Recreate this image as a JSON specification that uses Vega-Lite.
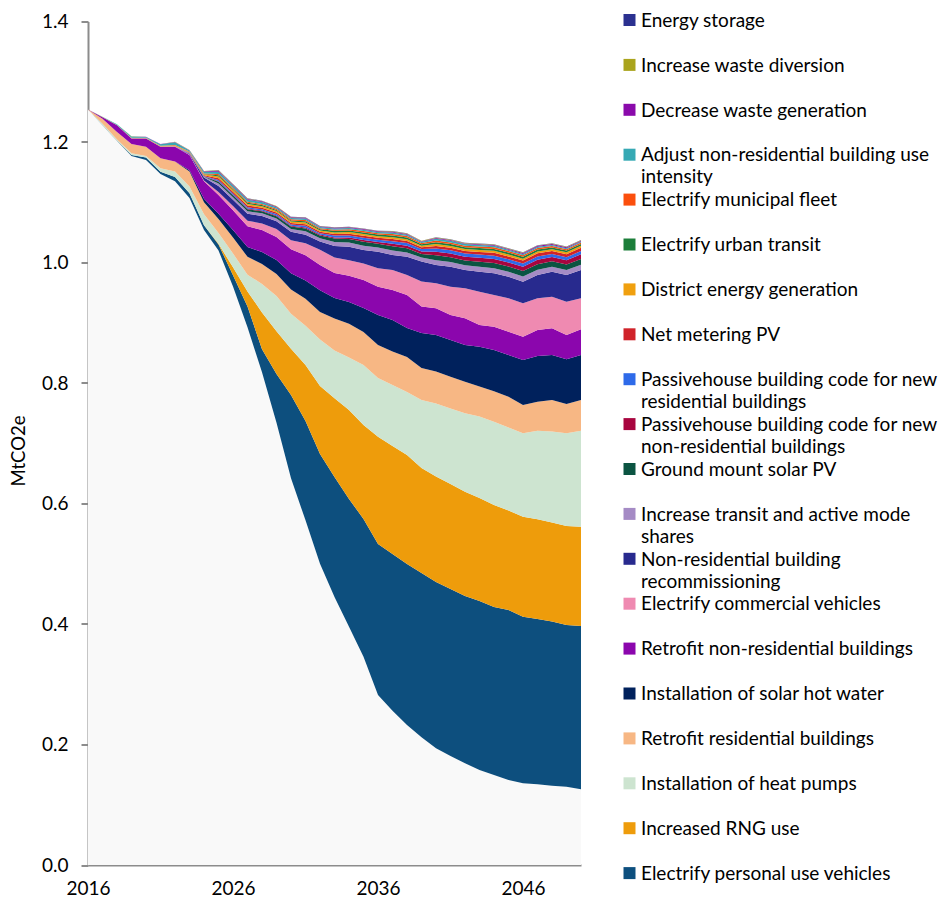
{
"$schema": "https://vega.github.io/schema/vega-lite/v6.json",
"width": 493,
"height": 843.5,
"autosize": {"type": "none"},
"padding": {"left": 88, "top": 21.5, "right": 364, "bottom": 42},
"background": "white",
"config": {"font": "Lato", "view": {"stroke": null}},
"datasets": {
"series": [
{"k":"R","name":"Remaining emissions","rank":0},
{"k":"PV","name":"Electrify personal use vehicles","rank":1},
{"k":"RNG","name":"Increased RNG use","rank":2},
{"k":"HP","name":"Installation of heat pumps","rank":3},
{"k":"RR","name":"Retrofit residential buildings","rank":4},
{"k":"SHW","name":"Installation of solar hot water","rank":5},
{"k":"RNR","name":"Retrofit non-residential buildings","rank":6},
{"k":"ECV","name":"Electrify commercial vehicles","rank":7},
{"k":"NRR","name":"Non-residential building recommissioning","rank":8},
{"k":"TAM","name":"Increase transit and active mode shares","rank":9},
{"k":"GSP","name":"Ground mount solar PV","rank":10},
{"k":"PHN","name":"Passivehouse building code for new non-residential buildings","rank":11},
{"k":"PHR","name":"Passivehouse building code for new residential buildings","rank":12},
{"k":"NM","name":"Net metering PV","rank":13},
{"k":"DE","name":"District energy generation","rank":14},
{"k":"EUT","name":"Electrify urban transit","rank":15},
{"k":"EMF","name":"Electrify municipal fleet","rank":16},
{"k":"ANR","name":"Adjust non-residential building use intensity","rank":17},
{"k":"DWG","name":"Decrease waste generation","rank":18},
{"k":"IWD","name":"Increase waste diversion","rank":19},
{"k":"ES","name":"Energy storage","rank":20}
],
"em": [
{"year":2016,"k":"R","v":1.254},{"year":2016,"k":"PV","v":0},{"year":2016,"k":"RNG","v":0},{"year":2016,"k":"HP","v":0},{"year":2016,"k":"RR","v":0},{"year":2016,"k":"SHW","v":0},{"year":2016,"k":"RNR","v":0},{"year":2016,"k":"ECV","v":0},{"year":2016,"k":"NRR","v":0},{"year":2016,"k":"TAM","v":0},{"year":2016,"k":"GSP","v":0},{"year":2016,"k":"PHN","v":0},{"year":2016,"k":"PHR","v":0},{"year":2016,"k":"NM","v":0},{"year":2016,"k":"DE","v":0},{"year":2016,"k":"EUT","v":0},{"year":2016,"k":"EMF","v":0},{"year":2016,"k":"ANR","v":0},{"year":2016,"k":"DWG","v":0},{"year":2016,"k":"IWD","v":0},{"year":2016,"k":"ES","v":0},
{"year":2017,"k":"R","v":1.228},{"year":2017,"k":"PV","v":0.0003},{"year":2017,"k":"RNG","v":0},{"year":2017,"k":"HP","v":0.002},{"year":2017,"k":"RR","v":0.0082},{"year":2017,"k":"SHW","v":0},{"year":2017,"k":"RNR","v":0.0025},{"year":2017,"k":"ECV","v":0},{"year":2017,"k":"NRR","v":0},{"year":2017,"k":"TAM","v":0.0001},{"year":2017,"k":"GSP","v":0},{"year":2017,"k":"PHN","v":0},{"year":2017,"k":"PHR","v":0},{"year":2017,"k":"NM","v":0},{"year":2017,"k":"DE","v":0.0002},{"year":2017,"k":"EUT","v":0},{"year":2017,"k":"EMF","v":0.0001},{"year":2017,"k":"ANR","v":0.0005},{"year":2017,"k":"DWG","v":0.0001},{"year":2017,"k":"IWD","v":0},{"year":2017,"k":"ES","v":0},
{"year":2018,"k":"R","v":1.2015},{"year":2018,"k":"PV","v":0.0005},{"year":2018,"k":"RNG","v":0},{"year":2018,"k":"HP","v":0.002},{"year":2018,"k":"RR","v":0.0127},{"year":2018,"k":"SHW","v":0},{"year":2018,"k":"RNR","v":0.011},{"year":2018,"k":"ECV","v":0},{"year":2018,"k":"NRR","v":0},{"year":2018,"k":"TAM","v":0.0002},{"year":2018,"k":"GSP","v":0},{"year":2018,"k":"PHN","v":0},{"year":2018,"k":"PHR","v":0},{"year":2018,"k":"NM","v":0},{"year":2018,"k":"DE","v":0.0003},{"year":2018,"k":"EUT","v":0},{"year":2018,"k":"EMF","v":0.0002},{"year":2018,"k":"ANR","v":0.001},{"year":2018,"k":"DWG","v":0.0001},{"year":2018,"k":"IWD","v":0},{"year":2018,"k":"ES","v":0},
{"year":2019,"k":"R","v":1.1768},{"year":2019,"k":"PV","v":0.0016},{"year":2019,"k":"RNG","v":0},{"year":2019,"k":"HP","v":0.0029},{"year":2019,"k":"RR","v":0.0154},{"year":2019,"k":"SHW","v":0},{"year":2019,"k":"RNR","v":0.0091},{"year":2019,"k":"ECV","v":0},{"year":2019,"k":"NRR","v":0},{"year":2019,"k":"TAM","v":0.0004},{"year":2019,"k":"GSP","v":0},{"year":2019,"k":"PHN","v":0},{"year":2019,"k":"PHR","v":0},{"year":2019,"k":"NM","v":0},{"year":2019,"k":"DE","v":0.0005},{"year":2019,"k":"EUT","v":0},{"year":2019,"k":"EMF","v":0.0004},{"year":2019,"k":"ANR","v":0.002},{"year":2019,"k":"DWG","v":0.0002},{"year":2019,"k":"IWD","v":0.0002},{"year":2019,"k":"ES","v":0},
{"year":2020,"k":"R","v":1.1701},{"year":2020,"k":"PV","v":0.004},{"year":2020,"k":"RNG","v":0},{"year":2020,"k":"HP","v":0.0028},{"year":2020,"k":"RR","v":0.0153},{"year":2020,"k":"SHW","v":0},{"year":2020,"k":"RNR","v":0.0136},{"year":2020,"k":"ECV","v":0},{"year":2020,"k":"NRR","v":0},{"year":2020,"k":"TAM","v":0.0003},{"year":2020,"k":"GSP","v":0},{"year":2020,"k":"PHN","v":0},{"year":2020,"k":"PHR","v":0},{"year":2020,"k":"NM","v":0},{"year":2020,"k":"DE","v":0.0005},{"year":2020,"k":"EUT","v":0},{"year":2020,"k":"EMF","v":0.0003},{"year":2020,"k":"ANR","v":0.0016},{"year":2020,"k":"DWG","v":0.0002},{"year":2020,"k":"IWD","v":0.0001},{"year":2020,"k":"ES","v":0},
{"year":2021,"k":"R","v":1.1469},{"year":2021,"k":"PV","v":0.0038},{"year":2021,"k":"RNG","v":0},{"year":2021,"k":"HP","v":0.0056},{"year":2021,"k":"RR","v":0.0166},{"year":2021,"k":"SHW","v":0},{"year":2021,"k":"RNR","v":0.0193},{"year":2021,"k":"ECV","v":0},{"year":2021,"k":"NRR","v":0},{"year":2021,"k":"TAM","v":0.0005},{"year":2021,"k":"GSP","v":0},{"year":2021,"k":"PHN","v":0},{"year":2021,"k":"PHR","v":0},{"year":2021,"k":"NM","v":0},{"year":2021,"k":"DE","v":0.0007},{"year":2021,"k":"EUT","v":0},{"year":2021,"k":"EMF","v":0.0005},{"year":2021,"k":"ANR","v":0.0024},{"year":2021,"k":"DWG","v":0.0002},{"year":2021,"k":"IWD","v":0.0002},{"year":2021,"k":"ES","v":0},
{"year":2022,"k":"R","v":1.135},{"year":2022,"k":"PV","v":0.007},{"year":2022,"k":"RNG","v":0},{"year":2022,"k":"HP","v":0.009},{"year":2022,"k":"RR","v":0.0166},{"year":2022,"k":"SHW","v":0},{"year":2022,"k":"RNR","v":0.0246},{"year":2022,"k":"ECV","v":0},{"year":2022,"k":"NRR","v":0},{"year":2022,"k":"TAM","v":0.0008},{"year":2022,"k":"GSP","v":0},{"year":2022,"k":"PHN","v":0},{"year":2022,"k":"PHR","v":0},{"year":2022,"k":"NM","v":0},{"year":2022,"k":"DE","v":0.0012},{"year":2022,"k":"EUT","v":0},{"year":2022,"k":"EMF","v":0.0008},{"year":2022,"k":"ANR","v":0.0046},{"year":2022,"k":"DWG","v":0.0004},{"year":2022,"k":"IWD","v":0.0005},{"year":2022,"k":"ES","v":0},
{"year":2023,"k":"R","v":1.107},{"year":2023,"k":"PV","v":0.008},{"year":2023,"k":"RNG","v":0},{"year":2023,"k":"HP","v":0.011},{"year":2023,"k":"RR","v":0.025},{"year":2023,"k":"SHW","v":0.002},{"year":2023,"k":"RNR","v":0.0254},{"year":2023,"k":"ECV","v":0.001},{"year":2023,"k":"NRR","v":0.001},{"year":2023,"k":"TAM","v":0.0008},{"year":2023,"k":"GSP","v":0.0003},{"year":2023,"k":"PHN","v":0.0001},{"year":2023,"k":"PHR","v":0.0004},{"year":2023,"k":"NM","v":0.0006},{"year":2023,"k":"DE","v":0.0009},{"year":2023,"k":"EUT","v":0.0004},{"year":2023,"k":"EMF","v":0.0005},{"year":2023,"k":"ANR","v":0.0016},{"year":2023,"k":"DWG","v":0.0004},{"year":2023,"k":"IWD","v":0.0002},{"year":2023,"k":"ES","v":0.0001},
{"year":2024,"k":"R","v":1.054},{"year":2024,"k":"PV","v":0.008},{"year":2024,"k":"RNG","v":0},{"year":2024,"k":"HP","v":0.018},{"year":2024,"k":"RR","v":0.02},{"year":2024,"k":"SHW","v":0.006},{"year":2024,"k":"RNR","v":0.029},{"year":2024,"k":"ECV","v":0.001},{"year":2024,"k":"NRR","v":0.005},{"year":2024,"k":"TAM","v":0.0013},{"year":2024,"k":"GSP","v":0.0005},{"year":2024,"k":"PHN","v":0.0002},{"year":2024,"k":"PHR","v":0.0007},{"year":2024,"k":"NM","v":0.0011},{"year":2024,"k":"DE","v":0.0015},{"year":2024,"k":"EUT","v":0.0007},{"year":2024,"k":"EMF","v":0.0009},{"year":2024,"k":"ANR","v":0.0027},{"year":2024,"k":"DWG","v":0.0007},{"year":2024,"k":"IWD","v":0.0004},{"year":2024,"k":"ES","v":0.0002},
{"year":2025,"k":"R","v":1.02},{"year":2025,"k":"PV","v":0.01},{"year":2025,"k":"RNG","v":0.001},{"year":2025,"k":"HP","v":0.018},{"year":2025,"k":"RR","v":0.023},{"year":2025,"k":"SHW","v":0.009},{"year":2025,"k":"RNR","v":0.031},{"year":2025,"k":"ECV","v":0.005},{"year":2025,"k":"NRR","v":0.01},{"year":2025,"k":"TAM","v":0.004},{"year":2025,"k":"GSP","v":0.0029},{"year":2025,"k":"PHN","v":0.0011},{"year":2025,"k":"PHR","v":0.002},{"year":2025,"k":"NM","v":0.0029},{"year":2025,"k":"DE","v":0.0029},{"year":2025,"k":"EUT","v":0.002},{"year":2025,"k":"EMF","v":0.002},{"year":2025,"k":"ANR","v":0.004},{"year":2025,"k":"DWG","v":0.0014},{"year":2025,"k":"IWD","v":0.0009},{"year":2025,"k":"ES","v":0.0004},
{"year":2026,"k":"R","v":0.96},{"year":2026,"k":"PV","v":0.019},{"year":2026,"k":"RNG","v":0.013},{"year":2026,"k":"HP","v":0.0229},{"year":2026,"k":"RR","v":0.0264},{"year":2026,"k":"SHW","v":0.0126},{"year":2026,"k":"RNR","v":0.0328},{"year":2026,"k":"ECV","v":0.007},{"year":2026,"k":"NRR","v":0.0106},{"year":2026,"k":"TAM","v":0.0041},{"year":2026,"k":"GSP","v":0.0031},{"year":2026,"k":"PHN","v":0.0011},{"year":2026,"k":"PHR","v":0.002},{"year":2026,"k":"NM","v":0.0028},{"year":2026,"k":"DE","v":0.0028},{"year":2026,"k":"EUT","v":0.002},{"year":2026,"k":"EMF","v":0.0019},{"year":2026,"k":"ANR","v":0.0036},{"year":2026,"k":"DWG","v":0.0014},{"year":2026,"k":"IWD","v":0.0009},{"year":2026,"k":"ES","v":0.0004},
{"year":2027,"k":"R","v":0.8924},{"year":2027,"k":"PV","v":0.0346},{"year":2027,"k":"RNG","v":0.025},{"year":2027,"k":"HP","v":0.0277},{"year":2027,"k":"RR","v":0.0298},{"year":2027,"k":"SHW","v":0.0162},{"year":2027,"k":"RNR","v":0.0346},{"year":2027,"k":"ECV","v":0.009},{"year":2027,"k":"NRR","v":0.0116},{"year":2027,"k":"TAM","v":0.0042},{"year":2027,"k":"GSP","v":0.0033},{"year":2027,"k":"PHN","v":0.0012},{"year":2027,"k":"PHR","v":0.0021},{"year":2027,"k":"NM","v":0.0027},{"year":2027,"k":"DE","v":0.0026},{"year":2027,"k":"EUT","v":0.002},{"year":2027,"k":"EMF","v":0.0019},{"year":2027,"k":"ANR","v":0.0033},{"year":2027,"k":"DWG","v":0.0013},{"year":2027,"k":"IWD","v":0.0008},{"year":2027,"k":"ES","v":0.0004},
{"year":2028,"k":"R","v":0.8177},{"year":2028,"k":"PV","v":0.0383},{"year":2028,"k":"RNG","v":0.061},{"year":2028,"k":"HP","v":0.0474},{"year":2028,"k":"RR","v":0.0332},{"year":2028,"k":"SHW","v":0.0198},{"year":2028,"k":"RNR","v":0.0364},{"year":2028,"k":"ECV","v":0.011},{"year":2028,"k":"NRR","v":0.0124},{"year":2028,"k":"TAM","v":0.0044},{"year":2028,"k":"GSP","v":0.0035},{"year":2028,"k":"PHN","v":0.0012},{"year":2028,"k":"PHR","v":0.0021},{"year":2028,"k":"NM","v":0.0026},{"year":2028,"k":"DE","v":0.0025},{"year":2028,"k":"EUT","v":0.002},{"year":2028,"k":"EMF","v":0.0018},{"year":2028,"k":"ANR","v":0.003},{"year":2028,"k":"DWG","v":0.0012},{"year":2028,"k":"IWD","v":0.0007},{"year":2028,"k":"ES","v":0.0004},
{"year":2029,"k":"R","v":0.734},{"year":2029,"k":"PV","v":0.081},{"year":2029,"k":"RNG","v":0.071},{"year":2029,"k":"HP","v":0.0582},{"year":2029,"k":"RR","v":0.0366},{"year":2029,"k":"SHW","v":0.0234},{"year":2029,"k":"RNR","v":0.0382},{"year":2029,"k":"ECV","v":0.013},{"year":2029,"k":"NRR","v":0.0132},{"year":2029,"k":"TAM","v":0.0046},{"year":2029,"k":"GSP","v":0.0037},{"year":2029,"k":"PHN","v":0.0013},{"year":2029,"k":"PHR","v":0.0022},{"year":2029,"k":"NM","v":0.0025},{"year":2029,"k":"DE","v":0.0024},{"year":2029,"k":"EUT","v":0.002},{"year":2029,"k":"EMF","v":0.0018},{"year":2029,"k":"ANR","v":0.0027},{"year":2029,"k":"DWG","v":0.0011},{"year":2029,"k":"IWD","v":0.0007},{"year":2029,"k":"ES","v":0.0003},
{"year":2030,"k":"R","v":0.642},{"year":2030,"k":"PV","v":0.138},{"year":2030,"k":"RNG","v":0.077},{"year":2030,"k":"HP","v":0.058},{"year":2030,"k":"RR","v":0.04},{"year":2030,"k":"SHW","v":0.027},{"year":2030,"k":"RNR","v":0.04},{"year":2030,"k":"ECV","v":0.015},{"year":2030,"k":"NRR","v":0.014},{"year":2030,"k":"TAM","v":0.0048},{"year":2030,"k":"GSP","v":0.0038},{"year":2030,"k":"PHN","v":0.0014},{"year":2030,"k":"PHR","v":0.0022},{"year":2030,"k":"NM","v":0.0024},{"year":2030,"k":"DE","v":0.0023},{"year":2030,"k":"EUT","v":0.002},{"year":2030,"k":"EMF","v":0.0017},{"year":2030,"k":"ANR","v":0.0024},{"year":2030,"k":"DWG","v":0.001},{"year":2030,"k":"IWD","v":0.0006},{"year":2030,"k":"ES","v":0.0003},
{"year":2031,"k":"R","v":0.572},{"year":2031,"k":"PV","v":0.165},{"year":2031,"k":"RNG","v":0.093},{"year":2031,"k":"HP","v":0.065},{"year":2031,"k":"RR","v":0.045},{"year":2031,"k":"SHW","v":0.03},{"year":2031,"k":"RNR","v":0.042},{"year":2031,"k":"ECV","v":0.02},{"year":2031,"k":"NRR","v":0.014},{"year":2031,"k":"TAM","v":0.0057},{"year":2031,"k":"GSP","v":0.0047},{"year":2031,"k":"PHN","v":0.0017},{"year":2031,"k":"PHR","v":0.0027},{"year":2031,"k":"NM","v":0.0028},{"year":2031,"k":"DE","v":0.0026},{"year":2031,"k":"EUT","v":0.0023},{"year":2031,"k":"EMF","v":0.002},{"year":2031,"k":"ANR","v":0.0025},{"year":2031,"k":"DWG","v":0.0011},{"year":2031,"k":"IWD","v":0.0007},{"year":2031,"k":"ES","v":0.0003},
{"year":2032,"k":"R","v":0.5},{"year":2032,"k":"PV","v":0.182},{"year":2032,"k":"RNG","v":0.113},{"year":2032,"k":"HP","v":0.077},{"year":2032,"k":"RR","v":0.046},{"year":2032,"k":"SHW","v":0.036},{"year":2032,"k":"RNR","v":0.042},{"year":2032,"k":"ECV","v":0.025},{"year":2032,"k":"NRR","v":0.014},{"year":2032,"k":"TAM","v":0.0053},{"year":2032,"k":"GSP","v":0.0044},{"year":2032,"k":"PHN","v":0.0016},{"year":2032,"k":"PHR","v":0.0024},{"year":2032,"k":"NM","v":0.0024},{"year":2032,"k":"DE","v":0.0022},{"year":2032,"k":"EUT","v":0.002},{"year":2032,"k":"EMF","v":0.0017},{"year":2032,"k":"ANR","v":0.0019},{"year":2032,"k":"DWG","v":0.0009},{"year":2032,"k":"IWD","v":0.0005},{"year":2032,"k":"ES","v":0.0003},
{"year":2033,"k":"R","v":0.445},{"year":2033,"k":"PV","v":0.199},{"year":2033,"k":"RNG","v":0.1306},{"year":2033,"k":"HP","v":0.0794},{"year":2033,"k":"RR","v":0.053},{"year":2033,"k":"SHW","v":0.034},{"year":2033,"k":"RNR","v":0.0416},{"year":2033,"k":"ECV","v":0.0257},{"year":2033,"k":"NRR","v":0.0191},{"year":2033,"k":"TAM","v":0.0068},{"year":2033,"k":"GSP","v":0.0055},{"year":2033,"k":"PHN","v":0.002},{"year":2033,"k":"PHR","v":0.003},{"year":2033,"k":"NM","v":0.0028},{"year":2033,"k":"DE","v":0.0025},{"year":2033,"k":"EUT","v":0.0025},{"year":2033,"k":"EMF","v":0.002},{"year":2033,"k":"ANR","v":0.002},{"year":2033,"k":"DWG","v":0.001},{"year":2033,"k":"IWD","v":0.0006},{"year":2033,"k":"ES","v":0.0003},
{"year":2034,"k":"R","v":0.3956},{"year":2034,"k":"PV","v":0.212},{"year":2034,"k":"RNG","v":0.1476},{"year":2034,"k":"HP","v":0.0871},{"year":2034,"k":"RR","v":0.0561},{"year":2034,"k":"SHW","v":0.036},{"year":2034,"k":"RNR","v":0.0437},{"year":2034,"k":"ECV","v":0.0256},{"year":2034,"k":"NRR","v":0.0225},{"year":2034,"k":"TAM","v":0.0069},{"year":2034,"k":"GSP","v":0.0059},{"year":2034,"k":"PHN","v":0.0025},{"year":2034,"k":"PHR","v":0.0033},{"year":2034,"k":"NM","v":0.003},{"year":2034,"k":"DE","v":0.0027},{"year":2034,"k":"EUT","v":0.0027},{"year":2034,"k":"EMF","v":0.0021},{"year":2034,"k":"ANR","v":0.0021},{"year":2034,"k":"DWG","v":0.001},{"year":2034,"k":"IWD","v":0.0006},{"year":2034,"k":"ES","v":0.0004},
{"year":2035,"k":"R","v":0.3458},{"year":2035,"k":"PV","v":0.2285},{"year":2035,"k":"RNG","v":0.156},{"year":2035,"k":"HP","v":0.0996},{"year":2035,"k":"RR","v":0.0547},{"year":2035,"k":"SHW","v":0.0399},{"year":2035,"k":"RNR","v":0.0465},{"year":2035,"k":"ECV","v":0.0273},{"year":2035,"k":"NRR","v":0.0224},{"year":2035,"k":"TAM","v":0.0073},{"year":2035,"k":"GSP","v":0.0064},{"year":2035,"k":"PHN","v":0.003},{"year":2035,"k":"PHR","v":0.0037},{"year":2035,"k":"NM","v":0.0032},{"year":2035,"k":"DE","v":0.0028},{"year":2035,"k":"EUT","v":0.0028},{"year":2035,"k":"EMF","v":0.0023},{"year":2035,"k":"ANR","v":0.0023},{"year":2035,"k":"DWG","v":0.0011},{"year":2035,"k":"IWD","v":0.0006},{"year":2035,"k":"ES","v":0.0004},
{"year":2036,"k":"R","v":0.2822},{"year":2036,"k":"PV","v":0.2506},{"year":2036,"k":"RNG","v":0.1781},{"year":2036,"k":"HP","v":0.0974},{"year":2036,"k":"RR","v":0.0548},{"year":2036,"k":"SHW","v":0.0498},{"year":2036,"k":"RNR","v":0.0469},{"year":2036,"k":"ECV","v":0.0306},{"year":2036,"k":"NRR","v":0.0275},{"year":2036,"k":"TAM","v":0.0069},{"year":2036,"k":"GSP","v":0.0062},{"year":2036,"k":"PHN","v":0.0032},{"year":2036,"k":"PHR","v":0.0037},{"year":2036,"k":"NM","v":0.0031},{"year":2036,"k":"DE","v":0.0027},{"year":2036,"k":"EUT","v":0.0027},{"year":2036,"k":"EMF","v":0.0022},{"year":2036,"k":"ANR","v":0.0022},{"year":2036,"k":"DWG","v":0.001},{"year":2036,"k":"IWD","v":0.0006},{"year":2036,"k":"ES","v":0.0003},
{"year":2037,"k":"R","v":0.2562},{"year":2037,"k":"PV","v":0.26},{"year":2037,"k":"RNG","v":0.1792},{"year":2037,"k":"HP","v":0.1013},{"year":2037,"k":"RR","v":0.0556},{"year":2037,"k":"SHW","v":0.0523},{"year":2037,"k":"RNR","v":0.0498},{"year":2037,"k":"ECV","v":0.0331},{"year":2037,"k":"NRR","v":0.0249},{"year":2037,"k":"TAM","v":0.0076},{"year":2037,"k":"GSP","v":0.007},{"year":2037,"k":"PHN","v":0.004},{"year":2037,"k":"PHR","v":0.0044},{"year":2037,"k":"NM","v":0.0036},{"year":2037,"k":"DE","v":0.003},{"year":2037,"k":"EUT","v":0.003},{"year":2037,"k":"EMF","v":0.0025},{"year":2037,"k":"ANR","v":0.0025},{"year":2037,"k":"DWG","v":0.0012},{"year":2037,"k":"IWD","v":0.0007},{"year":2037,"k":"ES","v":0.0004},
{"year":2038,"k":"R","v":0.2324},{"year":2038,"k":"PV","v":0.2672},{"year":2038,"k":"RNG","v":0.1809},{"year":2038,"k":"HP","v":0.1046},{"year":2038,"k":"RR","v":0.0581},{"year":2038,"k":"SHW","v":0.0481},{"year":2038,"k":"RNR","v":0.0548},{"year":2038,"k":"ECV","v":0.0332},{"year":2038,"k":"NRR","v":0.0303},{"year":2038,"k":"TAM","v":0.0072},{"year":2038,"k":"GSP","v":0.0068},{"year":2038,"k":"PHN","v":0.0042},{"year":2038,"k":"PHR","v":0.0044},{"year":2038,"k":"NM","v":0.0034},{"year":2038,"k":"DE","v":0.0029},{"year":2038,"k":"EUT","v":0.0029},{"year":2038,"k":"EMF","v":0.0024},{"year":2038,"k":"ANR","v":0.0024},{"year":2038,"k":"DWG","v":0.0011},{"year":2038,"k":"IWD","v":0.0007},{"year":2038,"k":"ES","v":0.0004},
{"year":2039,"k":"R","v":0.2119},{"year":2039,"k":"PV","v":0.2727},{"year":2039,"k":"RNG","v":0.1743},{"year":2039,"k":"HP","v":0.1129},{"year":2039,"k":"RR","v":0.0531},{"year":2039,"k":"SHW","v":0.0581},{"year":2039,"k":"RNR","v":0.044},{"year":2039,"k":"ECV","v":0.0415},{"year":2039,"k":"NRR","v":0.0332},{"year":2039,"k":"TAM","v":0.0065},{"year":2039,"k":"GSP","v":0.006},{"year":2039,"k":"PHN","v":0.004},{"year":2039,"k":"PHR","v":0.004},{"year":2039,"k":"NM","v":0.003},{"year":2039,"k":"DE","v":0.0025},{"year":2039,"k":"EUT","v":0.0025},{"year":2039,"k":"EMF","v":0.0021},{"year":2039,"k":"ANR","v":0.0021},{"year":2039,"k":"DWG","v":0.0009},{"year":2039,"k":"IWD","v":0.0006},{"year":2039,"k":"ES","v":0.0003},
{"year":2040,"k":"R","v":0.1936},{"year":2040,"k":"PV","v":0.2761},{"year":2040,"k":"RNG","v":0.1751},{"year":2040,"k":"HP","v":0.1212},{"year":2040,"k":"RR","v":0.0531},{"year":2040,"k":"SHW","v":0.0606},{"year":2040,"k":"RNR","v":0.0443},{"year":2040,"k":"ECV","v":0.0415},{"year":2040,"k":"NRR","v":0.0304},{"year":2040,"k":"TAM","v":0.008},{"year":2040,"k":"GSP","v":0.008},{"year":2040,"k":"PHN","v":0.0058},{"year":2040,"k":"PHR","v":0.0055},{"year":2040,"k":"NM","v":0.004},{"year":2040,"k":"DE","v":0.0033},{"year":2040,"k":"EUT","v":0.0033},{"year":2040,"k":"EMF","v":0.0028},{"year":2040,"k":"ANR","v":0.0028},{"year":2040,"k":"DWG","v":0.0012},{"year":2040,"k":"IWD","v":0.0008},{"year":2040,"k":"ES","v":0.0004},
{"year":2041,"k":"R","v":0.1809},{"year":2041,"k":"PV","v":0.2772},{"year":2041,"k":"RNG","v":0.1743},{"year":2041,"k":"HP","v":0.1253},{"year":2041,"k":"RR","v":0.0526},{"year":2041,"k":"SHW","v":0.0611},{"year":2041,"k":"RNR","v":0.0415},{"year":2041,"k":"ECV","v":0.0469},{"year":2041,"k":"NRR","v":0.0332},{"year":2041,"k":"TAM","v":0.0079},{"year":2041,"k":"GSP","v":0.008},{"year":2041,"k":"PHN","v":0.0059},{"year":2041,"k":"PHR","v":0.0054},{"year":2041,"k":"NM","v":0.0041},{"year":2041,"k":"DE","v":0.0032},{"year":2041,"k":"EUT","v":0.0032},{"year":2041,"k":"EMF","v":0.0027},{"year":2041,"k":"ANR","v":0.0026},{"year":2041,"k":"DWG","v":0.0012},{"year":2041,"k":"IWD","v":0.0008},{"year":2041,"k":"ES","v":0.0004},
{"year":2042,"k":"R","v":0.1688},{"year":2042,"k":"PV","v":0.2777},{"year":2042,"k":"RNG","v":0.1731},{"year":2042,"k":"HP","v":0.1301},{"year":2042,"k":"RR","v":0.0525},{"year":2042,"k":"SHW","v":0.0609},{"year":2042,"k":"RNR","v":0.0443},{"year":2042,"k":"ECV","v":0.0498},{"year":2042,"k":"NRR","v":0.0304},{"year":2042,"k":"TAM","v":0.0079},{"year":2042,"k":"GSP","v":0.008},{"year":2042,"k":"PHN","v":0.006},{"year":2042,"k":"PHR","v":0.0053},{"year":2042,"k":"NM","v":0.0042},{"year":2042,"k":"DE","v":0.0032},{"year":2042,"k":"EUT","v":0.0032},{"year":2042,"k":"EMF","v":0.0026},{"year":2042,"k":"ANR","v":0.0025},{"year":2042,"k":"DWG","v":0.0012},{"year":2042,"k":"IWD","v":0.0007},{"year":2042,"k":"ES","v":0.0004},
{"year":2043,"k":"R","v":0.1577},{"year":2043,"k":"PV","v":0.2805},{"year":2043,"k":"RNG","v":0.1709},{"year":2043,"k":"HP","v":0.1353},{"year":2043,"k":"RR","v":0.0498},{"year":2043,"k":"SHW","v":0.0661},{"year":2043,"k":"RNR","v":0.036},{"year":2043,"k":"ECV","v":0.0553},{"year":2043,"k":"NRR","v":0.0331},{"year":2043,"k":"TAM","v":0.0082},{"year":2043,"k":"GSP","v":0.0084},{"year":2043,"k":"PHN","v":0.0064},{"year":2043,"k":"PHR","v":0.0054},{"year":2043,"k":"NM","v":0.0045},{"year":2043,"k":"DE","v":0.0032},{"year":2043,"k":"EUT","v":0.0032},{"year":2043,"k":"EMF","v":0.0027},{"year":2043,"k":"ANR","v":0.0024},{"year":2043,"k":"DWG","v":0.0013},{"year":2043,"k":"IWD","v":0.0008},{"year":2043,"k":"ES","v":0.0004},
{"year":2044,"k":"R","v":0.1494},{"year":2044,"k":"PV","v":0.2788},{"year":2044,"k":"RNG","v":0.1693},{"year":2044,"k":"HP","v":0.1383},{"year":2044,"k":"RR","v":0.0504},{"year":2044,"k":"SHW","v":0.0686},{"year":2044,"k":"RNR","v":0.0387},{"year":2044,"k":"ECV","v":0.0526},{"year":2044,"k":"NRR","v":0.036},{"year":2044,"k":"TAM","v":0.0084},{"year":2044,"k":"GSP","v":0.0087},{"year":2044,"k":"PHN","v":0.0066},{"year":2044,"k":"PHR","v":0.0055},{"year":2044,"k":"NM","v":0.0047},{"year":2044,"k":"DE","v":0.0033},{"year":2044,"k":"EUT","v":0.0033},{"year":2044,"k":"EMF","v":0.0027},{"year":2044,"k":"ANR","v":0.0024},{"year":2044,"k":"DWG","v":0.0013},{"year":2044,"k":"IWD","v":0.0008},{"year":2044,"k":"ES","v":0.0004},
{"year":2045,"k":"R","v":0.1411},{"year":2045,"k":"PV","v":0.2821},{"year":2045,"k":"RNG","v":0.1652},{"year":2045,"k":"HP","v":0.1377},{"year":2045,"k":"RR","v":0.0512},{"year":2045,"k":"SHW","v":0.0692},{"year":2045,"k":"RNR","v":0.0386},{"year":2045,"k":"ECV","v":0.0555},{"year":2045,"k":"NRR","v":0.0358},{"year":2045,"k":"TAM","v":0.0083},{"year":2045,"k":"GSP","v":0.0086},{"year":2045,"k":"PHN","v":0.0067},{"year":2045,"k":"PHR","v":0.0053},{"year":2045,"k":"NM","v":0.0047},{"year":2045,"k":"DE","v":0.0032},{"year":2045,"k":"EUT","v":0.0032},{"year":2045,"k":"EMF","v":0.0026},{"year":2045,"k":"ANR","v":0.0022},{"year":2045,"k":"DWG","v":0.0014},{"year":2045,"k":"IWD","v":0.0008},{"year":2045,"k":"ES","v":0.0004},
{"year":2046,"k":"R","v":0.1356},{"year":2046,"k":"PV","v":0.2765},{"year":2046,"k":"RNG","v":0.166},{"year":2046,"k":"HP","v":0.1384},{"year":2046,"k":"RR","v":0.047},{"year":2046,"k":"SHW","v":0.0747},{"year":2046,"k":"RNR","v":0.0386},{"year":2046,"k":"ECV","v":0.0555},{"year":2046,"k":"NRR","v":0.0358},{"year":2046,"k":"TAM","v":0.0086},{"year":2046,"k":"GSP","v":0.009},{"year":2046,"k":"PHN","v":0.0071},{"year":2046,"k":"PHR","v":0.0054},{"year":2046,"k":"NM","v":0.005},{"year":2046,"k":"DE","v":0.0032},{"year":2046,"k":"EUT","v":0.0032},{"year":2046,"k":"EMF","v":0.0026},{"year":2046,"k":"ANR","v":0.0021},{"year":2046,"k":"DWG","v":0.0015},{"year":2046,"k":"IWD","v":0.0007},{"year":2046,"k":"ES","v":0.0004},
{"year":2047,"k":"R","v":0.1339},{"year":2047,"k":"PV","v":0.2744},{"year":2047,"k":"RNG","v":0.1655},{"year":2047,"k":"HP","v":0.147},{"year":2047,"k":"RR","v":0.048},{"year":2047,"k":"SHW","v":0.076},{"year":2047,"k":"RNR","v":0.0432},{"year":2047,"k":"ECV","v":0.0526},{"year":2047,"k":"NRR","v":0.0387},{"year":2047,"k":"TAM","v":0.0087},{"year":2047,"k":"GSP","v":0.0092},{"year":2047,"k":"PHN","v":0.0074},{"year":2047,"k":"PHR","v":0.0054},{"year":2047,"k":"NM","v":0.0052},{"year":2047,"k":"DE","v":0.0032},{"year":2047,"k":"EUT","v":0.0032},{"year":2047,"k":"EMF","v":0.0026},{"year":2047,"k":"ANR","v":0.002},{"year":2047,"k":"DWG","v":0.0015},{"year":2047,"k":"IWD","v":0.0007},{"year":2047,"k":"ES","v":0.0004},
{"year":2048,"k":"R","v":0.1316},{"year":2048,"k":"PV","v":0.2725},{"year":2048,"k":"RNG","v":0.1644},{"year":2048,"k":"HP","v":0.151},{"year":2048,"k":"RR","v":0.0523},{"year":2048,"k":"SHW","v":0.0747},{"year":2048,"k":"RNR","v":0.0443},{"year":2048,"k":"ECV","v":0.0525},{"year":2048,"k":"NRR","v":0.0414},{"year":2048,"k":"TAM","v":0.0083},{"year":2048,"k":"GSP","v":0.0089},{"year":2048,"k":"PHN","v":0.0071},{"year":2048,"k":"PHR","v":0.005},{"year":2048,"k":"NM","v":0.005},{"year":2048,"k":"DE","v":0.003},{"year":2048,"k":"EUT","v":0.003},{"year":2048,"k":"EMF","v":0.0024},{"year":2048,"k":"ANR","v":0.0018},{"year":2048,"k":"DWG","v":0.0015},{"year":2048,"k":"IWD","v":0.0007},{"year":2048,"k":"ES","v":0.0004},
{"year":2049,"k":"R","v":0.13},{"year":2049,"k":"PV","v":0.2683},{"year":2049,"k":"RNG","v":0.1644},{"year":2049,"k":"HP","v":0.1538},{"year":2049,"k":"RR","v":0.0486},{"year":2049,"k":"SHW","v":0.0742},{"year":2049,"k":"RNR","v":0.0404},{"year":2049,"k":"ECV","v":0.0552},{"year":2049,"k":"NRR","v":0.0444},{"year":2049,"k":"TAM","v":0.0083},{"year":2049,"k":"GSP","v":0.0089},{"year":2049,"k":"PHN","v":0.0072},{"year":2049,"k":"PHR","v":0.005},{"year":2049,"k":"NM","v":0.0052},{"year":2049,"k":"DE","v":0.003},{"year":2049,"k":"EUT","v":0.003},{"year":2049,"k":"EMF","v":0.0023},{"year":2049,"k":"ANR","v":0.0016},{"year":2049,"k":"DWG","v":0.0015},{"year":2049,"k":"IWD","v":0.0007},{"year":2049,"k":"ES","v":0.0004},
{"year":2050,"k":"R","v":0.1256},{"year":2050,"k":"PV","v":0.2711},{"year":2050,"k":"RNG","v":0.1648},{"year":2050,"k":"HP","v":0.1593},{"year":2050,"k":"RR","v":0.051},{"year":2050,"k":"SHW","v":0.0747},{"year":2050,"k":"RNR","v":0.0426},{"year":2050,"k":"ECV","v":0.0515},{"year":2050,"k":"NRR","v":0.047},{"year":2050,"k":"TAM","v":0.0088},{"year":2050,"k":"GSP","v":0.0095},{"year":2050,"k":"PHN","v":0.0078},{"year":2050,"k":"PHR","v":0.0052},{"year":2050,"k":"NM","v":0.0056},{"year":2050,"k":"DE","v":0.0031},{"year":2050,"k":"EUT","v":0.0031},{"year":2050,"k":"EMF","v":0.0024},{"year":2050,"k":"ANR","v":0.0016},{"year":2050,"k":"DWG","v":0.0016},{"year":2050,"k":"IWD","v":0.0007},{"year":2050,"k":"ES","v":0.0004}
]
},
"data": {"name": "em"},
"transform": [
{"lookup": "k", "from": {"data": {"name": "series"}, "key": "k", "fields": ["name", "rank"]}}
],
"mark": {"type": "area", "interpolate": "linear"},
"encoding": {
"x": {"field": "year", "type": "quantitative",
 "scale": {"domain": [2016, 2050], "nice": false, "zero": false},
 "axis": {"values": [2016, 2026, 2036, 2046], "format": "d", "title": null, "grid": false, "ticks": false,
  "labelFontSize": 19, "labelColor": "#000000", "labelPadding": 14, "labelFlush": false,
  "domainColor": "#8c8c8c", "domainWidth": 2}},
"y": {"field": "v", "type": "quantitative", "stack": "zero",
 "scale": {"domain": [0, 1.4], "nice": false},
 "axis": {"values": [0, 0.2, 0.4, 0.6, 0.8, 1.0, 1.2, 1.4], "format": ".1f", "grid": false,
  "labelFontSize": 19, "labelColor": "#000000", "labelPadding": 13, "labelFlush": false,
  "tickSize": 7, "tickColor": "#8c8c8c", "tickWidth": 2,
  "domainColor": "#8c8c8c", "domainWidth": 2,
  "title": "MtCO2e", "titleFontSize": 18.5, "titleFontWeight": "normal", "titleColor": "#000000", "titlePadding": 13, "titleY": 429}},
"color": {"field": "name", "type": "nominal",
 "scale": {
  "domain": ["Energy storage","Increase waste diversion","Decrease waste generation","Adjust non-residential building use intensity","Electrify municipal fleet","Electrify urban transit","District energy generation","Net metering PV","Passivehouse building code for new residential buildings","Passivehouse building code for new non-residential buildings","Ground mount solar PV","Increase transit and active mode shares","Non-residential building recommissioning","Electrify commercial vehicles","Retrofit non-residential buildings","Installation of solar hot water","Retrofit residential buildings","Installation of heat pumps","Increased RNG use","Electrify personal use vehicles","Remaining emissions"],
  "range": ["#2b3190","#aaa41d","#8a0aab","#36a9b4","#fb4f0d","#1c7e3a","#f0a00f","#d0232a","#2e6ae9","#a8053f","#0b5442","#a58bc5","#282a8e","#ef8ab1","#8b06ad","#00215c","#f7b784","#cde4d0","#ee9c0b","#0d4f7e","#f9f9f9"]},
 "legend": {
  "orient": "none", "legendX": 532, "legendY": -11, "title": null, "padding": 0,
  "values": ["Energy storage","Increase waste diversion","Decrease waste generation","Adjust non-residential building use intensity","Electrify municipal fleet","Electrify urban transit","District energy generation","Net metering PV","Passivehouse building code for new residential buildings","Passivehouse building code for new non-residential buildings","Ground mount solar PV","Increase transit and active mode shares","Non-residential building recommissioning","Electrify commercial vehicles","Retrofit non-residential buildings","Installation of solar hot water","Retrofit residential buildings","Installation of heat pumps","Increased RNG use","Electrify personal use vehicles"],
  "symbolType": "square", "symbolSize": 144, "symbolStrokeWidth": 0, "symbolOpacity": 1,
  "labelFontSize": 19, "labelColor": "#000000", "labelLimit": 340, "labelOffset": 2,
  "labelBaseline": "alphabetic", "rowPadding": 1.9, "gridAlign": "all",
  "labelExpr": "datum.label == 'Adjust non-residential building use intensity' ? ['Adjust non-residential building use', 'intensity'] : datum.label == 'Passivehouse building code for new residential buildings' ? ['Passivehouse building code for new', 'residential buildings'] : datum.label == 'Passivehouse building code for new non-residential buildings' ? ['Passivehouse building code for new', 'non-residential buildings'] : datum.label == 'Increase transit and active mode shares' ? ['Increase transit and active mode', 'shares'] : datum.label == 'Non-residential building recommissioning' ? ['Non-residential building', 'recommissioning'] : datum.label",
  "encode": {"labels": {"update": {"lineHeight": {"value": 22}, "dy": {"value": 6.7}}}}
 }},
"order": {"field": "rank", "type": "quantitative", "sort": "ascending"}
}
}
